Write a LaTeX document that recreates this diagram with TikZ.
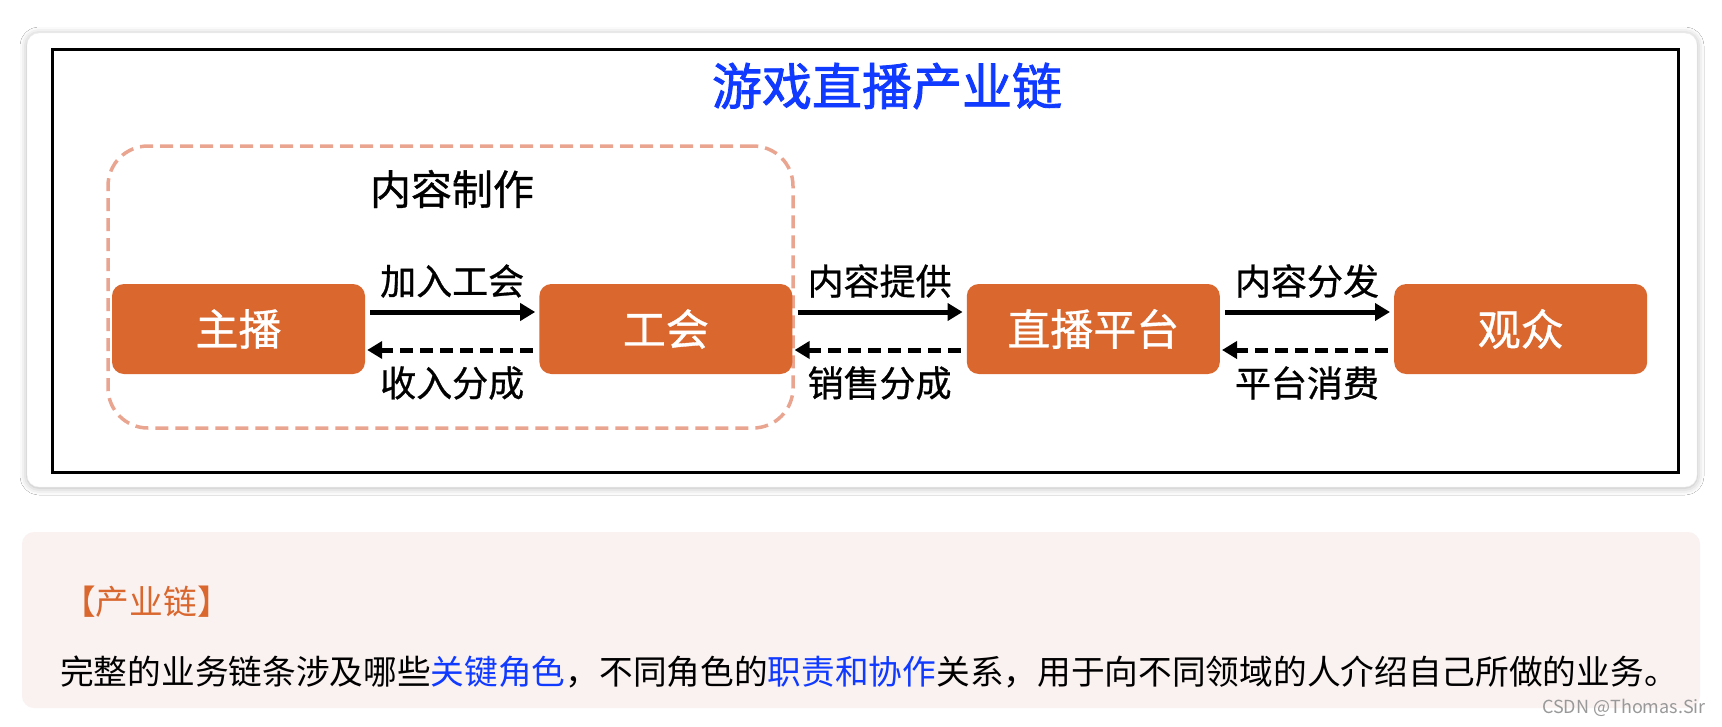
\documentclass[tikz,border=0pt]{standalone}
\usepackage{fontspec}
\newfontfamily\cjk{Noto Sans CJK SC}
\newfontfamily\cjkmid{Noto Sans CJK SC}[FakeBold=0.8]
\newfontfamily\cjkhead{Noto Sans CJK SC}[FakeBold=1.6]
\usetikzlibrary{arrows.meta,positioning,shadows.blur}
\definecolor{roleorange}{RGB}{217,103,46}
\definecolor{groupsalmon}{RGB}{234,165,145}
\definecolor{chainblue}{RGB}{16,58,255}
\definecolor{notepink}{RGB}{250,242,241}

\begin{document}
\begin{tikzpicture}[
    x=1pt,y=-1pt,
    node distance=174pt,
    card/.style={rectangle,rounded corners=12pt,fill=white,draw=gray!12,
                 blur shadow={shadow xshift=0pt,shadow yshift=-1pt,shadow blur radius=7pt,shadow opacity=30}},
    role/.style={rectangle,rounded corners=12pt,fill=roleorange,text=white,
                 minimum width=253pt,minimum height=90pt,font=\cjkmid\fontsize{43pt}{48pt}\selectfont},
    group/.style={rectangle,rounded corners=40pt,draw=groupsalmon,line width=3.5pt,
                  dash pattern=on 13pt off 7pt,minimum width=685pt,minimum height=282pt},
    flowlabel/.style={font=\cjkmid\fontsize{36pt}{40pt}\selectfont,inner sep=0pt},
    flow/.style={-{Triangle[length=15pt,width=17pt]},line width=5pt},
    payback/.style={flow,dash pattern=on 13pt off 7pt},
    note/.style={font=\cjk\fontsize{33.7pt}{38pt}\selectfont,anchor=west,inner sep=0pt}
]
\useasboundingbox (0,0) rectangle (1722,726);
\fill[white] (0,0) rectangle (1722,726);

\node[card,minimum width=1670pt,minimum height=454pt] (frame) at (862,260) {};
\draw[line width=3pt] (52,49) rectangle (1678,472);
\node[font=\cjkhead\fontsize{50pt}{56pt}\selectfont,text=chainblue] (title) at (887,86) {游戏直播产业链};

\node[group] (making) at (450.5,287) {};
\node[font=\cjkmid\fontsize{41pt}{46pt}\selectfont] (makinglabel) at (452,189) {内容制作};

\node[role] (host) at (238.5,329) {主播};
\node[role,right=of host] (guild) {工会};
\node[role,right=of guild] (platform) {直播平台};
\node[role,right=of platform] (audience) {观众};

\draw[flow,shorten <=5pt,shorten >=4pt] ([yshift=17pt]host.east) -- ([yshift=17pt]guild.west)
    node[midway,flowlabel,yshift=31pt] {加入工会};
\draw[payback,shorten <=6pt,shorten >=2pt] ([yshift=-21pt]guild.west) -- ([yshift=-21pt]host.east)
    node[midway,flowlabel,yshift=-33pt] {收入分成};
\draw[flow,shorten <=5pt,shorten >=4pt] ([yshift=17pt]guild.east) -- ([yshift=17pt]platform.west)
    node[midway,flowlabel,yshift=31pt] {内容提供};
\draw[payback,shorten <=6pt,shorten >=2pt] ([yshift=-21pt]platform.west) -- ([yshift=-21pt]guild.east)
    node[midway,flowlabel,yshift=-33pt] {销售分成};
\draw[flow,shorten <=5pt,shorten >=4pt] ([yshift=17pt]platform.east) -- ([yshift=17pt]audience.west)
    node[midway,flowlabel,yshift=31pt] {内容分发};
\draw[payback,shorten <=6pt,shorten >=2pt] ([yshift=-21pt]audience.west) -- ([yshift=-21pt]platform.east)
    node[midway,flowlabel,yshift=-33pt] {平台消费};

\fill[notepink,rounded corners=12pt] (22,532) rectangle (1700,708);
\node[note,text=roleorange] (notehead) at (62,602) {【产业链】};
\node[note] (notebody) at (60,672) {完整的业务链条涉及哪些\textcolor{chainblue}{关键角色}，不同角色的\textcolor{chainblue}{职责和协作}关系，用于向不同领域的人介绍自己所做的业务。};
\node[font=\cjk\fontsize{18pt}{20pt}\selectfont,text=gray!80,anchor=east,inner sep=0pt] (mark) at (1706,708) {CSDN @Thomas.Sir};
\end{tikzpicture}
\end{document}
